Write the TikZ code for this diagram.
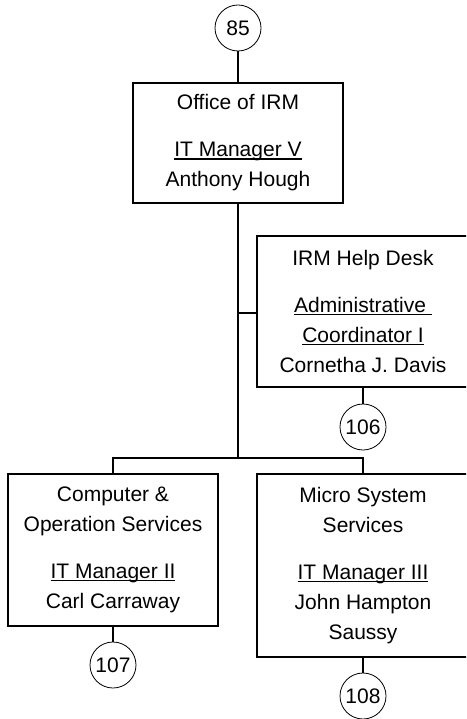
\documentclass[tikz,border=0pt]{standalone}
\usepackage{fontspec}
\setmainfont{Liberation Sans}
\newcommand\myul[1]{\setbox0\hbox{#1}\rlap{\rule[-2.6pt]{\wd0}{1.4pt}}\box0}
\begin{document}
\begin{tikzpicture}[x=1pt,y=-1pt,
  unitbox/.style={draw, line width=1.7pt, align=center, inner sep=0pt,
    font=\fontsize{21}{30}\selectfont},
  refcircle/.style={draw, circle, line width=0.8pt, minimum size=46pt, inner sep=0pt,
    font=\fontsize{21}{25}\selectfont},
  link/.style={line width=1.7pt}]
\useasboundingbox (0,0) rectangle (466,719);
\clip (0,0) rectangle (466,719);
\node[refcircle] (c85) at (238,28) {85};
\node[unitbox, minimum width=210pt, minimum height=120pt] (office) at (238,143)
  {Office of IRM\\[17pt]\myul{IT Manager V}\\Anthony Hough};
\node[unitbox, minimum width=212pt, minimum height=151pt] (help) at (363,311.5)
  {IRM Help Desk\\[17pt]\myul{Administrative\ }\\\myul{Coordinator I}\\Cornetha J. Davis};
\node[refcircle] (c106) at (363,427) {106};
\node[unitbox, minimum width=210pt, minimum height=152pt] (cos) at (113,550)
  {Computer \&\\Operation Services\\[17pt]\myul{IT Manager II}\\Carl Carraway};
\node[refcircle] (c107) at (113,665) {107};
\node[unitbox, minimum width=212pt, minimum height=183pt] (mss) at (363,565.5)
  {Micro System\\Services\\[17pt]\myul{IT Manager III}\\John Hampton\\Saussy};
\node[refcircle] (c108) at (363,696) {108};
\coordinate (jh) at (238,313);
\coordinate (jb) at (238,458);
\draw[link] (c85) -- (office);
\draw[link] (office.south) -- (jb);
\draw[link] (jh) -- (jh -| help.west);
\draw[link] (jb) -| (cos.north);
\draw[link] (jb) -| (mss.north);
\draw[link] (help.south) -- (c106);
\draw[link] (cos.south) -- (c107);
\draw[link] (mss.south) -- (c108);
\end{tikzpicture}
\end{document}
